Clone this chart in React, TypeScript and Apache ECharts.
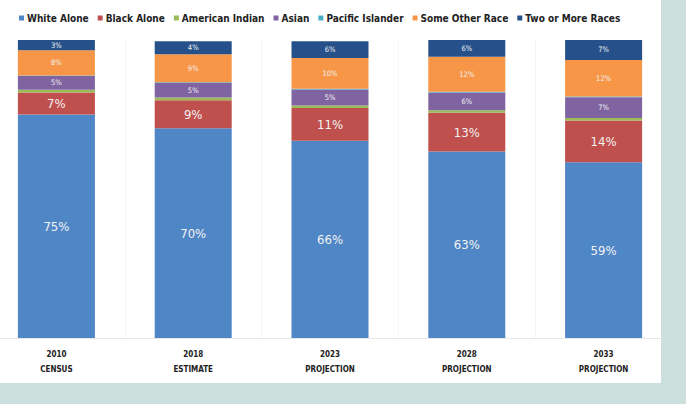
import React, { useEffect, useRef } from "react";
import * as echarts from "echarts";

const categories = [
  "2010\nCENSUS",
  "2018\nESTIMATE",
  "2023\nPROJECTION",
  "2028\nPROJECTION",
  "2033\nPROJECTION",
];

const seriesNames = [
  "White Alone",
  "Black Alone",
  "American Indian",
  "Asian",
  "Pacific Islander",
  "Some Other Race",
  "Two or More Races",
];

const whiteAlone = [75, 70.4, 66.2, 62.6, 59];
const blackAlone = [7.4, 9.4, 11, 13, 14];
const americanIndian = [0.9, 0.9, 0.8, 0.8, 0.8];
const asian = [4.6, 4.9, 5.4, 6, 7];
const pacificIslander = [0.2, 0.2, 0.2, 0.2, 0.2];
const someOtherRace = [8.45, 9.4, 10.4, 11.8, 12.3];
const twoOrMore = [3.45, 4.4, 5.6, 5.6, 6.7];

const seriesValues = [
  whiteAlone,
  blackAlone,
  americanIndian,
  asian,
  pacificIslander,
  someOtherRace,
  twoOrMore,
];

const colors = [
  "#4f86c6",
  "#c0504d",
  "#9bbb59",
  "#8064a2",
  "#4bacc6",
  "#f79646",
  "#25508a",
];

const labelSizes = [13, 13, 7, 7.5, 7, 7.5, 7.5];

export default function App() {
  const ref = useRef<HTMLDivElement>(null);

  useEffect(() => {
    if (!ref.current) return;
    const chart = echarts.init(ref.current, undefined, { renderer: "svg" });
    const font = "'DejaVu Sans Condensed', 'Liberation Sans Narrow', 'Liberation Sans', sans-serif";
    chart.setOption({
      animation: false,
      backgroundColor: "#ffffff",
      textStyle: { fontFamily: font },
      legend: {
        top: 8,
        left: 26,
        icon: "rect",
        itemWidth: 5,
        itemHeight: 5,
        itemGap: 9,
        textStyle: {
          fontSize: 10,
          fontWeight: "bold",
          color: "#222",
          fontFamily: font,
          padding: [0, 0, 0, -2],
        },
        data: seriesNames,
      },
      grid: { left: 0, top: 40, width: 684, height: 298, containLabel: false },
      xAxis: {
        type: "category",
        data: categories,
        axisLine: { lineStyle: { color: "#e8e8e8" } },
        axisTick: { show: false },
        splitLine: { show: true, lineStyle: { color: "#ececec", type: "dotted" } },
        axisLabel: {
          fontSize: 8,
          fontWeight: "bold",
          color: "#222",
          lineHeight: 15,
          margin: 9,
          fontFamily: font,
        },
      },
      yAxis: {
        type: "value",
        min: 0,
        max: 100,
        show: false,
        splitLine: { show: false },
      },
      series: seriesNames.map((name, i) => ({
        name,
        type: "bar",
        stack: "total",
        barWidth: 77,
        data: seriesValues[i],
        itemStyle: { color: colors[i] },
        label: {
          show: true,
          position: "inside",
          color: "#f2f2f2",
          fontSize: labelSizes[i],
          fontFamily: font,
          formatter: (p: any) => (p.value >= 2 ? Math.round(p.value) + "%" : ""),
        },
      })),
    });
    return () => chart.dispose();
  }, []);

  return (
    <div
      style={{
        position: "fixed",
        left: 0,
        top: 0,
        width: 686,
        height: 404,
        background: "#cde0de",
      }}
    >
      <div
        style={{
          position: "absolute",
          left: 0,
          top: 0,
          width: 661,
          height: 383,
          overflow: "hidden",
          background: "#ffffff",
        }}
      >
        <div
          ref={ref}
          style={{ position: "absolute", left: -12, top: 0, width: 684, height: 383 }}
        />
      </div>
    </div>
  );
}
